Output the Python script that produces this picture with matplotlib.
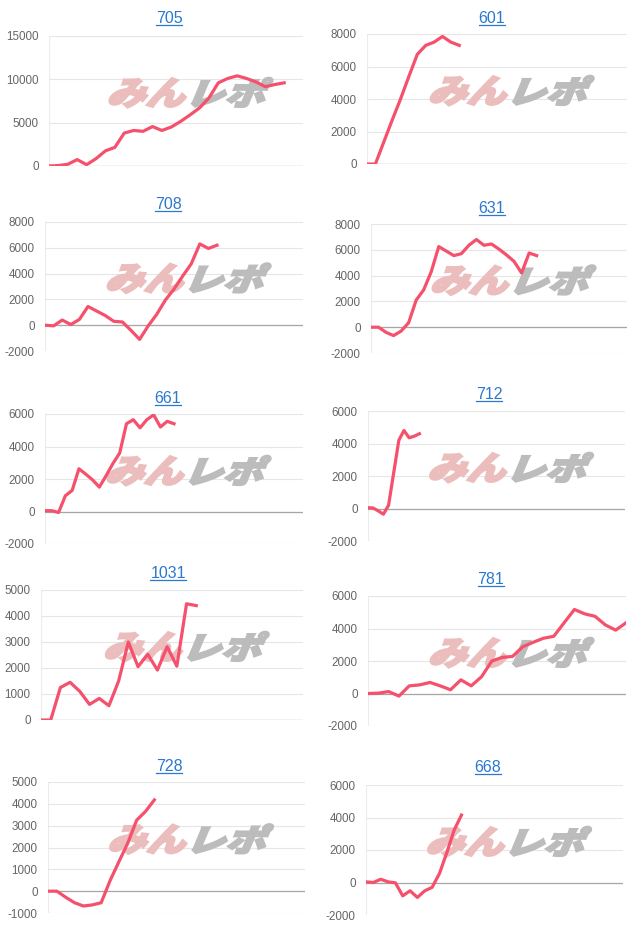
import matplotlib
matplotlib.use("Agg")
from matplotlib import pyplot as plt
from matplotlib.textpath import TextPath
from matplotlib.patches import PathPatch
from matplotlib.font_manager import FontProperties
from matplotlib.lines import Line2D
from matplotlib.transforms import Affine2D, IdentityTransform
import numpy as np

plt.rcParams['font.family'] = ['Liberation Sans', 'DejaVu Sans']
plt.rcParams['axes.unicode_minus'] = False

# machine numbers (chart titles)
names = ['705', '601', '708', '631', '661', '712', '1031', '781', '728', '668']

# cumulative values per chart
v705 = [0, 50, 200, 740, 150, 850, 1750, 2150, 3800, 4100, 4000, 4550, 4100, 4500,
        5150, 5900, 6700, 7850, 9600, 10100, 10400, 10100, 9700, 9150, 9400, 9600]
v601 = [0, 0, 1350, 2700, 4000, 5400, 6750, 7300, 7500, 7850, 7500, 7300]
v708 = [0, -50, 400, 50, 450, 1450, 1100, 750, 300, 250, -400, -1100, -50, 850,
        1950, 2800, 3800, 4750, 6300, 5950, 6200]
v631 = [0, 0, -400, -650, -300, 350, 2100, 2900, 4300, 6250, 5900, 5550, 5700, 6350,
        6800, 6350, 6450, 6050, 5600, 5100, 4200, 5750, 5550]
v661 = [50, 50, -60, 970, 1300, 2630, 2300, 1950, 1500, 2200, 2950, 3600, 5400, 5650,
        5150, 5650, 5950, 5200, 5550, 5400]
v712 = [50, 30, -150, -350, 200, 2200, 4200, 4800, 4350, 4450, 4600]
v1031 = [0, 0, 1250, 1450, 1100, 600, 830, 550, 1500, 3000, 2050, 2530, 1920, 2820,
         2070, 4470, 4400]
v781 = [0, 20, 120, -160, 470, 530, 680, 470, 230, 840, 470, 1030, 2000, 2220, 2280,
        2880, 3150, 3400, 3520, 4350, 5170, 4900, 4750, 4220, 3900, 4350]
v728 = [0, 0, -280, -530, -680, -630, -530, 480, 1350, 2200, 3250, 3650, 4180]
v668 = [40, 0, 200, 40, -20, -820, -510, -920, -510, -300, 550, 1830, 3220, 4150]
series = [v705, v601, v708, v631, v661, v712, v1031, v781, v728, v668]

# x domain length (number of steps) of each chart
spans = [27, 31, 30, 34, 38, 50, 27, 25, 29, 35]

# y axis ranges
ymins = [0, 0, -2000, -2000, -2000, -2000, 0, -2000, -1000, -2000]
ymaxs = [15000, 8000, 8000, 8000, 6000, 6000, 5000, 6000, 5000, 6000]
ysteps = [5000, 2000, 2000, 2000, 2000, 2000, 1000, 2000, 1000, 2000]

# layout in pixels: left, right, top, bottom of plot area, title x, title y
W, H = 640, 931
boxes = [(49, 303, 36, 166, 169, 17), (367, 627, 34, 164, 492, 17),
         (45, 303, 222, 351, 168, 203), (371, 627, 224, 353, 492, 207),
         (45, 303, 414, 544, 168, 397), (368, 625, 411, 541, 489, 393),
         (41, 303, 590, 720, 168, 572), (368, 626, 596, 726, 491, 578),
         (48, 305, 782, 913, 169, 765), (366, 623, 785, 915, 488, 766)]

line_col = '#f5506c'
title_col = '#2a78cf'

fig = plt.figure(figsize=(W / 100, H / 100), dpi=100)

jp = FontProperties(family='Noto Sans CJK JP', weight='heavy')
p_min = TextPath((0, 0), 'みん', size=1, prop=jp)
p_rep = TextPath((0, 0), 'レポ', size=1, prop=jp)

titles = []
for i in range(10):
    L, R, T, B, tx, ty = boxes[i]
    ax = fig.add_axes([L / W, 1 - B / H, (R - L) / W, (B - T) / H])
    ax.set_xlim(0, spans[i])
    ax.set_ylim(ymins[i], ymaxs[i])
    ax.set_yticks(np.arange(ymins[i], ymaxs[i] + 1, ysteps[i]))
    ax.set_xticks([])
    for s in ax.spines.values():
        s.set_visible(False)
    ax.tick_params(axis='y', length=0, pad=7.5, labelsize=8.4, labelcolor='#666666')
    ax.grid(axis='y', color='#e6e6e6', lw=0.8)
    ax.set_axisbelow(True)
    ax.axhline(0, color='#a6a6a6', lw=0.9, zorder=1)
    ax.axvline(0, color='#ececec', lw=0.8, zorder=0.5)

    # watermark
    cx, cy = ax.transAxes.transform((0.54, 0.57))
    x0 = cx - 80
    y0 = cy - 13
    t1 = Affine2D().skew_deg(18, 0).scale(39, 33).translate(x0, y0)
    t2 = Affine2D().skew_deg(18, 0).scale(40, 31).translate(x0 + 78, y0)
    ax.add_patch(PathPatch(p_min, transform=t1, facecolor='#ebbdbd', edgecolor='#ebbdbd',
                           lw=1.6, zorder=1.5))
    ax.add_patch(PathPatch(p_rep, transform=t2, facecolor='#bcbcbc', edgecolor='#bcbcbc',
                           lw=1.6, zorder=1.5))

    vals = series[i]
    ax.plot(range(len(vals)), vals, color=line_col, lw=2.3, solid_joinstyle='round', zorder=3)

    t = fig.text(tx / W, 1 - (ty + 6) / H, names[i], ha='center', va='baseline',
                 fontsize=11.5, color=title_col)
    titles.append(t)

fig.canvas.draw()
r = fig.canvas.get_renderer()
for t in titles:
    bb = t.get_window_extent(r)
    base = bb.y0 + 1.5
    fig.add_artist(Line2D([bb.x0, bb.x1], [base, base], color=title_col, lw=0.9,
                          transform=IdentityTransform()))

fig.savefig('out.png', dpi=100)
